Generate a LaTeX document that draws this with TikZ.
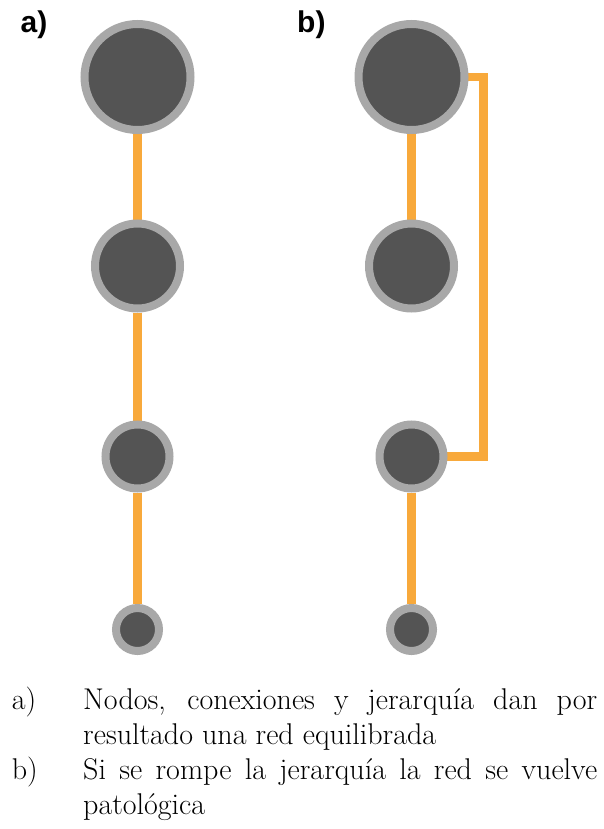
\documentclass[tikz,border=0pt]{standalone}
\usepackage{fontspec}
\newfontfamily\panelfont{Liberation Sans}
\usetikzlibrary{backgrounds}
\definecolor{nodedark}{HTML}{545454}
\definecolor{nodering}{HTML}{A8A8A8}
\definecolor{linkorange}{HTML}{F8A93B}
\tikzset{
  netnode/.style={circle, fill=nodedark, draw=nodering, line width=8pt, inner sep=0pt, minimum size=#1},
  link/.style={draw=linkorange, line width=8.3pt, line join=miter},
  panel/.style={font=\panelfont\bfseries\fontsize{30}{30}\selectfont, anchor=base west, inner sep=0pt},
  itemlabel/.style={font=\fontsize{30}{35}\selectfont, anchor=base west, inner sep=0pt},
  itemtext/.style={font=\fontsize{30}{35}\selectfont, anchor=base west, inner sep=0pt, text width=514pt, align=justify}
}
\begin{document}
\begin{tikzpicture}[x=1pt, y=-1pt]
\useasboundingbox (0,0) rectangle (603,829);
% panel labels
\node[panel] (la) at (20.5,32.5) {a)};
\node[panel] (lb) at (297,32.5) {b)};
% panel a nodes
\node[netnode=106pt] (a1) at (137.5,77) {};
\node[netnode=85pt]  (a2) at (137.5,266) {};
\node[netnode=64pt]  (a3) at (137.5,456.5) {};
\node[netnode=43pt]  (a4) at (137.5,629.5) {};
% panel b nodes
\node[netnode=106pt] (b1) at (411.5,77) {};
\node[netnode=85pt]  (b2) at (411.5,266) {};
\node[netnode=64pt]  (b3) at (411.5,456.5) {};
\node[netnode=43pt]  (b4) at (411.5,629.5) {};
\coordinate (bk) at (483.5,0);
\begin{scope}[on background layer]
  \fill[white] (0,0) rectangle (603,829);
  \draw[link] (a1) -- (a2);
  \draw[link] (a2) -- (a3);
  \draw[link] (a3) -- (a4);
  \draw[link] (b1) -- (b2);
  \draw[link] (b3) -- (b4);
  \draw[link] (b1.center) -- (b1.center -| bk) -- (b3.center -| bk) -- (b3.center);
\end{scope}
% caption
\node[itemlabel] (ca) at (11.7,709.3) {a)};
\node[itemtext] (ta) at (83,709.3) {Nodos, conexiones y jerarquía dan por\linebreak resultado una red equilibrada};
\node[itemlabel] (cb) at (11.7,779) {b)};
\node[itemtext] (tb) at (83,779) {Si se rompe la jerarquía la red se vuelve\linebreak patológica};
\end{tikzpicture}
\end{document}
